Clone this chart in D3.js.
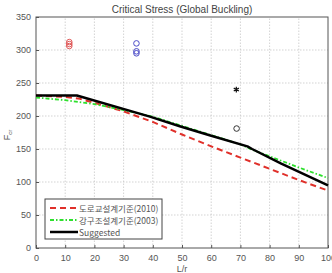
<!DOCTYPE html>
<html>
<head>
<meta charset="utf-8">
<script src="https://cdn.jsdelivr.net/npm/d3@7"></script>
<style>
  body { margin: 0; background: #fff; }
  text { font-family: "Liberation Sans", Arial, sans-serif; fill: #444; }
</style>
</head>
<body>
<script>
'use strict';

// chart values
const xTicks = [0, 10, 20, 30, 40, 50, 60, 70, 80, 90, 100];
const yTicks = [0, 50, 100, 150, 200, 250, 300, 350];

const kscX = [0, 10, 15, 20, 30, 40, 50, 60, 70, 80, 90, 100];
const kscY = [231, 229, 226, 220, 207, 191, 172, 154, 137, 120, 103, 87];

const ksscX = [0, 10, 20, 30, 40, 50, 60, 70, 74, 80, 90, 100];
const ksscY = [228, 224, 218, 209, 199, 185, 171, 157, 149, 139, 122, 106];

const sugX = [0, 14, 39, 49.5, 60, 72.4, 74, 84, 100];
const sugY = [231, 231, 199, 184, 170, 154, 150, 128, 95];

const redPtsX = [11.4, 11.4, 11.4];
const redPtsY = [312, 309, 306];
const bluePtsX = [34.4, 34.4, 34.4];
const bluePtsY = [310, 298, 295];
const starX = [68.6];
const starY = [240];
const blackPtsX = [68.7];
const blackPtsY = [181];

const legendLabels = ['도로교설계기준(2010)', '강구조설계기준(2003)', 'Suggested'];

window.onload = function() {
  const width = 332, height = 273;
  const margin = {left: 36, right: 4, top: 17, bottom: 25};

  const svg = d3.select('body').append('svg')
    .attr('width', width)
    .attr('height', height);

  const x = d3.scaleLinear().domain([0, 100]).range([margin.left, width - margin.right]);
  const y = d3.scaleLinear().domain([0, 350]).range([height - margin.bottom, margin.top]);

  // grid
  svg.append('g').selectAll('line')
    .data(xTicks.slice(1, -1))
    .enter().append('line')
      .attr('x1', (d) => x(d)).attr('x2', (d) => x(d))
      .attr('y1', y(0)).attr('y2', y(350))
      .attr('stroke', '#c8c8c8').attr('stroke-width', 0.8)
      .attr('stroke-dasharray', '1.5,1.5');
  svg.append('g').selectAll('line')
    .data(yTicks.slice(1, -1))
    .enter().append('line')
      .attr('x1', x(0)).attr('x2', x(100))
      .attr('y1', (d) => y(d)).attr('y2', (d) => y(d))
      .attr('stroke', '#c8c8c8').attr('stroke-width', 0.8)
      .attr('stroke-dasharray', '1.5,1.5');

  // axes
  const xAxis = d3.axisBottom(x).tickValues(xTicks).tickSizeInner(-3).tickSizeOuter(0).tickPadding(7);
  const gx = svg.append('g').attr('transform', 'translate(0,' + y(0) + ')').call(xAxis);
  const yAxis = d3.axisLeft(y).tickValues(yTicks).tickSizeInner(-3).tickSizeOuter(0).tickPadding(5);
  const gy = svg.append('g').attr('transform', 'translate(' + x(0) + ',0)').call(yAxis);
  [gx, gy].forEach((g) => {
    g.select('.domain').remove();
    g.selectAll('.tick line').attr('stroke', '#555');
    g.selectAll('.tick text').style('font-size', '9px').style('fill', '#555')
      .style('font-family', '"Liberation Sans", Arial, sans-serif');
  });

  // frame
  svg.append('rect')
    .attr('x', x(0)).attr('y', y(350))
    .attr('width', x(100) - x(0)).attr('height', y(0) - y(350))
    .attr('fill', 'none').attr('stroke', '#555').attr('stroke-width', 1);

  const line = d3.line().x((d) => x(d[0])).y((d) => y(d[1]));
  const zip = (a, b) => a.map((v, i) => [v, b[i]]);

  svg.append('path').datum(zip(kscX, kscY))
    .attr('d', line).attr('fill', 'none')
    .attr('stroke', '#e0302a').attr('stroke-width', 2)
    .attr('stroke-dasharray', '6,4');

  svg.append('path').datum(zip(ksscX, ksscY))
    .attr('d', line).attr('fill', 'none')
    .attr('stroke', '#2ee02e').attr('stroke-width', 1.8)
    .attr('stroke-dasharray', '4,2,1.5,2');

  svg.append('path').datum(zip(sugX, sugY))
    .attr('d', line).attr('fill', 'none')
    .attr('stroke', '#000').attr('stroke-width', 2.5)
    .attr('stroke-linejoin', 'round');

  // test points
  function circles(xs, ys, color) {
    svg.append('g').selectAll('circle')
      .data(zip(xs, ys))
      .enter().append('circle')
        .attr('cx', (d) => x(d[0])).attr('cy', (d) => y(d[1]))
        .attr('r', 2.8)
        .attr('fill', 'none').attr('stroke', color).attr('stroke-width', 1);
  }
  circles(redPtsX, redPtsY, '#e05a5a');
  circles(bluePtsX, bluePtsY, '#4a4ac8');
  circles(blackPtsX, blackPtsY, '#333');

  const star = d3.symbol().type(d3.symbolAsterisk).size(24);
  svg.append('g').selectAll('path')
    .data(zip(starX, starY))
    .enter().append('path')
      .attr('transform', (d) => 'translate(' + x(d[0]) + ',' + y(d[1]) + ')')
      .attr('d', star)
      .attr('fill', 'none').attr('stroke', '#111').attr('stroke-width', 1.2);

  // legend
  const lg = svg.append('g').attr('transform', 'translate(45,199)');
  lg.append('rect').attr('width', 117).attr('height', 40)
    .attr('fill', '#fff').attr('stroke', '#444').attr('stroke-width', 1);
  const styles = [
    {stroke: '#e0302a', w: 2, dash: '6,4'},
    {stroke: '#2ee02e', w: 1.8, dash: '4,2,1.5,2'},
    {stroke: '#000', w: 2.5, dash: null}
  ];
  legendLabels.forEach((label, i) => {
    const yy = 9 + i * 12;
    lg.append('line')
      .attr('x1', 5).attr('x2', 33).attr('y1', yy).attr('y2', yy)
      .attr('stroke', styles[i].stroke).attr('stroke-width', styles[i].w)
      .attr('stroke-dasharray', styles[i].dash);
    lg.append('text')
      .attr('x', 34).attr('y', yy + 3.5)
      .style('font-size', '8.5px')
      .style('font-family', '"Noto Sans CJK KR", "Liberation Sans", sans-serif')
      .style('fill', '#555')
      .text(label);
  });

  // title and labels
  svg.append('text')
    .attr('x', 182).attr('y', 13)
    .attr('text-anchor', 'middle')
    .style('font-size', '10px')
    .style('fill', '#444')
    .text('Critical Stress (Global Buckling)');

  const yl = svg.append('text')
    .attr('transform', 'translate(10,135)rotate(-90)')
    .attr('text-anchor', 'middle')
    .style('font-size', '9px')
    .style('fill', '#555');
  yl.append('tspan').text('F');
  yl.append('tspan').attr('dy', 2).style('font-size', '6px').text('cr');

  svg.append('text')
    .attr('x', 182).attr('y', 272)
    .attr('text-anchor', 'middle')
    .style('font-size', '9px')
    .style('fill', '#555')
    .text('L/r');
};
</script>
</body>
</html>
